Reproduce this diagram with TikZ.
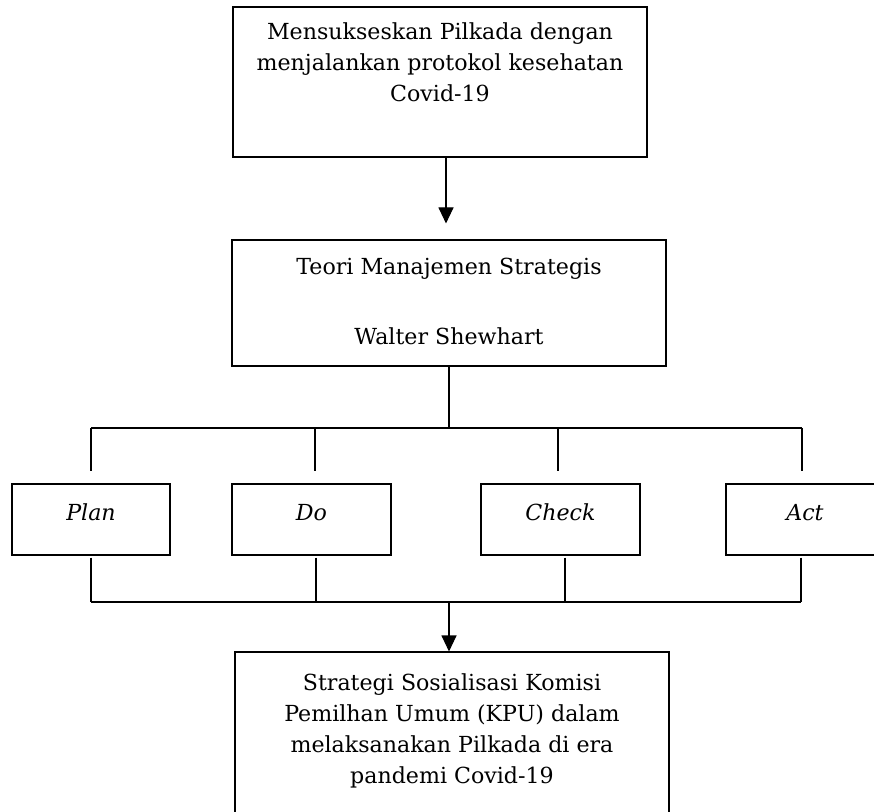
\documentclass[tikz,border=0pt]{standalone}
\usepackage{fontspec}
\setmainfont{DejaVu Serif}
\usetikzlibrary{arrows.meta}
\tikzset{
  box/.style={draw, line width=0.8pt, inner sep=0pt, anchor=center},
  conn/.style={line width=0.8pt},
  arr/.style={conn, -{Triangle[length=12pt, width=11.25pt]}},
}
\newcommand{\boxtext}[4]{\parbox[c][#2][t]{#1}{\centering\fontsize{16.6pt}{23.25pt}\selectfont\rule{0pt}{#3}#4}}
\begin{document}
\begin{tikzpicture}[x=0.75pt, y=-0.75pt]
\useasboundingbox (0,0) rectangle (874,812);
\clip (0,0) rectangle (874,812);
% boxes
\node[box] (top) at (440,82) {\boxtext{310.5pt}{112.5pt}{24.75pt}{Mensukseskan Pilkada dengan\\menjalankan protokol kesehatan\\Covid-19}};
\node[box] (theory) at (449,303) {\boxtext{325.5pt}{94.5pt}{26.25pt}{Teori Manajemen Strategis\\[29.25pt]Walter Shewhart}};
\node[box] (plan) at (91,519.5) {\boxtext{118.5pt}{53.25pt}{27pt}{\itshape Plan}};
\node[box] (do) at (311.5,519.5) {\boxtext{119.25pt}{53.25pt}{27pt}{\itshape Do}};
\node[box] (check) at (560.5,519.5) {\boxtext{119.25pt}{53.25pt}{27pt}{\itshape Check}};
\node[box] (act) at (805,519.5) {\boxtext{118.5pt}{53.25pt}{27pt}{\itshape Act}};
\node[box] (result) at (452,742) {\boxtext{325.5pt}{135pt}{28.5pt}{Strategi Sosialisasi Komisi\\Pemilhan Umum (KPU) dalam\\melaksanakan Pilkada di era\\pandemi Covid-19}};
% coordinates
\coordinate (busT) at (449,428);
\coordinate (d1) at (91,428);
\coordinate (d2) at (315,428);
\coordinate (d3) at (558,428);
\coordinate (d4) at (802,428);
\coordinate (e1) at (91,602);
\coordinate (e2) at (316,602);
\coordinate (e3) at (565,602);
\coordinate (e4) at (801,602);
\coordinate (m) at (449,602);
% connectors
\draw[arr, shorten >=12pt] ([xshift=4.5pt]top.south) -- ([xshift=4.5pt]top.south |- theory.north);
\draw[conn] (theory.south -| busT) -- (busT);
\draw[conn] (d1) -- (d4);
\draw[conn, shorten >=9pt] (d1) -- (d1 |- plan.north);
\draw[conn, shorten >=9pt] (d2) -- (d2 |- do.north);
\draw[conn, shorten >=9pt] (d3) -- (d3 |- check.north);
\draw[conn, shorten >=9pt] (d4) -- (d4 |- act.north);
\draw[conn, shorten <=1.5pt] (e1 |- plan.south) -- (e1);
\draw[conn, shorten <=1.5pt] (e2 |- do.south) -- (e2);
\draw[conn, shorten <=1.5pt] (e3 |- check.south) -- (e3);
\draw[conn, shorten <=1.5pt] (e4 |- act.south) -- (e4);
\draw[conn] (e1) -- (e4);
\draw[arr] (m) -- (m |- result.north);
\end{tikzpicture}
\end{document}
